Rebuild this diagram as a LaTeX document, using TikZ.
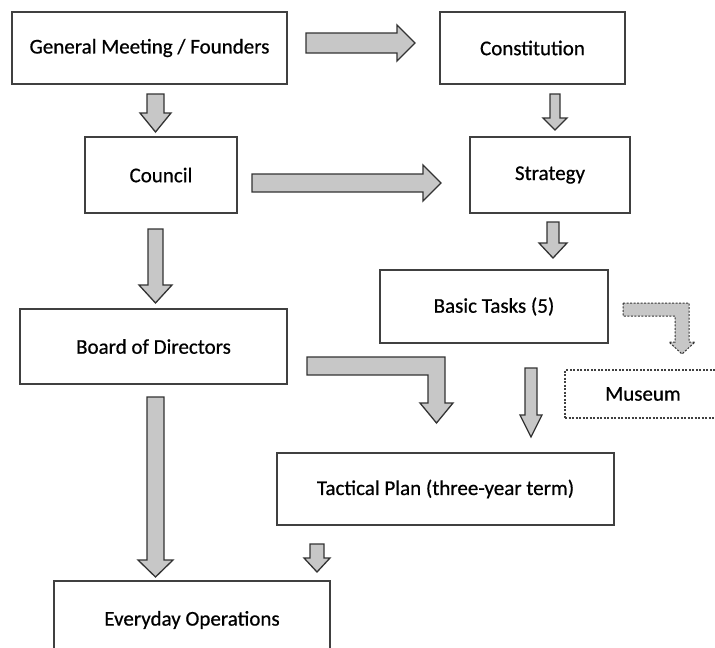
\documentclass[tikz,border=0pt]{standalone}
\usepackage{fontspec}
\setmainfont{Carlito}
\newfontfamily\boxfont[FakeBold=0.6]{Carlito}
\usepackage{tikz}

\begin{document}
\begin{tikzpicture}[x=1pt,y=-1pt,
        box/.style={draw=black!75, line width=1.1pt, fill=white, font=\boxfont\fontsize{21}{24}\selectfont, inner sep=0pt},
        blk/.style={draw=black!80, line width=1.3pt, fill=black!22, line join=miter},
        dots/.style={dash pattern=on 2pt off 1.5pt}]
        \useasboundingbox (0,0) rectangle (715,648);
        % boxes
        \node[box, minimum width=275, minimum height=72] (gm) at (149.5,48) {General Meeting / Founders};
        \node[box, minimum width=185, minimum height=72] (cons) at (532.5,48) {Constitution};
        \node[box, minimum width=152, minimum height=76] (council) at (161,175) {Council};
        \node[box, minimum width=160, minimum height=76] (strat) at (550,175) {Strategy};
        \node[box, minimum width=228, minimum height=73] (basic) at (494,306.5) {Basic Tasks (5)};
        \node[box, minimum width=267, minimum height=75] (board) at (153.5,346.5) {Board of Directors};
        \node[box, dots, minimum width=156, minimum height=48] (museum) at (643,394) {Museum};
        \node[box, minimum width=337, minimum height=72] (tact) at (445.5,489) {Tactical Plan (three-year term)};
        \node[box, minimum width=276, minimum height=78] (every) at (192,620) {Everyday Operations};
        % block arrows
        \draw[blk] (306,33) -- (397,33) -- (397,25) -- (415,43) -- (397,61) -- (397,53) -- (306,53) -- cycle;
        \draw[blk] (147,94) -- (164,94) -- (164,113) -- (171,113) -- (155.5,132) -- (140,113) -- (147,113) -- cycle;
        \draw[blk] (550,94) -- (560,94) -- (560,118) -- (567,118) -- (555,130) -- (543,118) -- (550,118) -- cycle;
        \draw[blk] (252,174) -- (423,174) -- (423,165) -- (441,183) -- (423,201) -- (423,192) -- (252,192) -- cycle;
        \draw[blk] (547,222) -- (559,222) -- (559,243) -- (567,243) -- (553,258) -- (539,243) -- (547,243) -- cycle;
        \draw[blk] (148,229) -- (163,229) -- (163,285) -- (172,285) -- (155.5,303) -- (139,285) -- (148,285) -- cycle;
        \draw[blk] (147,397) -- (164,397) -- (164,560) -- (173,560) -- (155.5,577) -- (138,560) -- (147,560) -- cycle;
        \draw[blk] (307,357) -- (445,357) -- (445,403) -- (453,403) -- (436.5,423) -- (420,403) -- (428,403) -- (428,375) -- (307,375) -- cycle;
        \draw[blk] (525,368) -- (537,368) -- (537,415) -- (542,415) -- (531,437) -- (520,415) -- (525,415) -- cycle;
        \draw[blk, dots, line width=1pt] (623,303) -- (689,303) -- (689,342) -- (695,342) -- (682,354) -- (669,342) -- (675,342) -- (675,316) -- (623,316) -- cycle;
        \draw[blk] (310,544) -- (324,544) -- (324,558) -- (330,558) -- (317,572) -- (304,558) -- (310,558) -- cycle;
\end{tikzpicture}
\end{document}
